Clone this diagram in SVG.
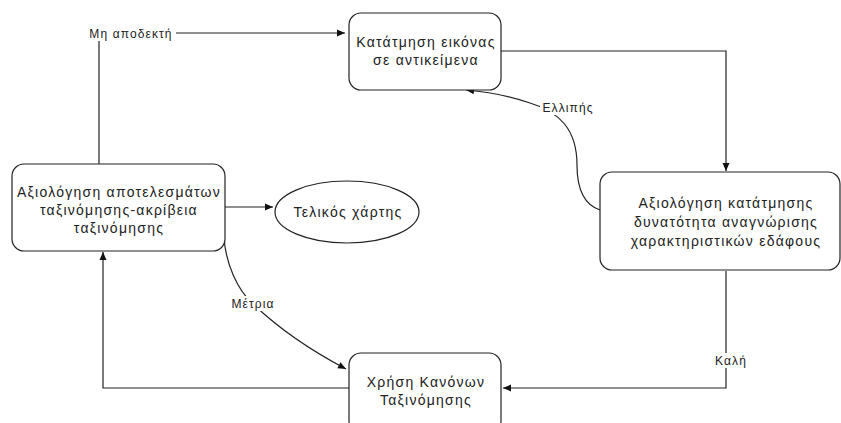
<svg xmlns="http://www.w3.org/2000/svg" width="841" height="423" viewBox="0 0 841 423">
<defs>
<marker id="arr" markerWidth="10" markerHeight="10" refX="9" refY="5" orient="auto" markerUnits="userSpaceOnUse">
<path d="M1,1.5 L9,5 L1,8.5 Z" fill="#111"/>
</marker>
<style>
.node rect, .node ellipse { fill: #fff; stroke: #222; stroke-width: 1.2; }
.t { font-family: "Liberation Sans", Arial, sans-serif; font-size: 14px; letter-spacing: 1.25px; fill: #222; text-anchor: middle; }
.lbl { font-family: "Liberation Sans", Arial, sans-serif; font-size: 12px; letter-spacing: 1.1px; fill: #222; text-anchor: middle; }
.e { fill: none; stroke: #222; stroke-width: 1.2; }
.bg { fill: #fff; }
</style>
</defs>
<rect width="841" height="423" fill="#fff"/>
<g id="connectors">
<path class="e" d="M99,164 L99,33 L345,33" marker-end="url(#arr)"/>
<path class="e" d="M501,51 L726,51 L726,171" marker-end="url(#arr)"/>
<path class="e" d="M726,271 L726,388 L503,388" marker-end="url(#arr)"/>
<path class="e" d="M349,388 L103,388 L103,252" marker-end="url(#arr)"/>
<path class="e" d="M225,207 L273,207" marker-end="url(#arr)"/>
<path class="e" d="M600,210 C585,205 577,190 577,165 C577,130 560,112 530,103 C510,96 490,92 466,90" marker-end="url(#arr)"/>
<path class="e" d="M224,238 C226,265 238,290 252,303 C280,330 310,350 346,369" marker-end="url(#arr)"/>
<rect class="bg" x="85" y="25" width="91" height="16"/>
<text class="lbl" x="131" y="37.5">Μη αποδεκτή</text>
<rect class="bg" x="540" y="100" width="54" height="15"/>
<text class="lbl" x="568" y="112">Ελλιπής</text>
<rect class="bg" x="227" y="296" width="52" height="15"/>
<text class="lbl" x="253" y="308">Μέτρια</text>
<rect class="bg" x="711" y="353" width="38" height="15"/>
<text class="lbl" x="731" y="365">Καλή</text>
</g>
<g id="n1" class="node">
<rect x="349" y="13" width="152" height="77" rx="12"/>
<text class="t" x="426" y="47">Κατάτμηση εικόνας</text>
<text class="t" x="426" y="65">σε αντικείμενα</text>
</g>
<g id="n3" class="node">
<rect x="600" y="172" width="240" height="98" rx="12"/>
<text class="t" x="726" y="208">Αξιολόγηση κατάτμησης</text>
<text class="t" x="726" y="227">δυνατότητα αναγνώρισης</text>
<text class="t" x="726" y="246">χαρακτηριστικών εδάφους</text>
</g>
<g id="n4" class="node">
<rect x="12" y="164" width="213" height="87" rx="12"/>
<text class="t" x="119" y="197">Αξιολόγηση αποτελεσμάτων</text>
<text class="t" x="119" y="215">ταξινόμησης-ακρίβεια</text>
<text class="t" x="119" y="233">ταξινόμησης</text>
</g>
<g id="n2" class="node">
<ellipse cx="347" cy="212" rx="72" ry="31"/>
<text class="t" x="348" y="217">Τελικός χάρτης</text>
</g>
<g id="n5" class="node">
<rect x="349" y="353" width="152" height="80" rx="12"/>
<text class="t" x="426" y="387">Χρήση Κανόνων</text>
<text class="t" x="426" y="405">Ταξινόμησης</text>
</g>
</svg>
